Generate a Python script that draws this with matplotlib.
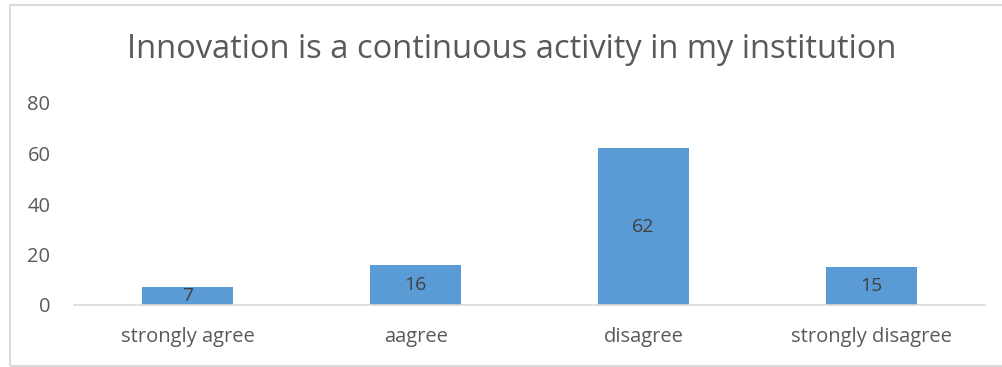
import matplotlib.pyplot as plt
from matplotlib.patches import Rectangle

categories = ['strongly agree', 'aagree', 'disagree', 'strongly disagree']
counts = [7, 16, 62, 15]
yticks = [0, 20, 40, 60, 80]

plt.rcParams['font.family'] = ['Open Sans', 'DejaVu Sans']
text_color = '#595959'
bar_color = '#5B9BD5'
line_color = '#D9D9D9'

fig = plt.figure(figsize=(10.02, 3.67), dpi=100)

# chart frame
fig.patches.append(Rectangle((10 / 1002, 1.5 / 367), 1.0, 360.5 / 367, transform=fig.transFigure,
                             fill=False, edgecolor=line_color, linewidth=1.5))

ax = fig.add_axes([74 / 1002, 62 / 367, 911 / 1002, 202 / 367])
x = range(len(categories))
bars = ax.bar(x, counts, width=0.4, color=bar_color, zorder=2)
for rect, v in zip(bars, counts):
    ax.text(rect.get_x() + rect.get_width() / 2, v / 2, str(v), ha='center', va='center',
            fontsize=14, color='#404040', zorder=3)

ax.set_xlim(-0.5, len(categories) - 0.5)
ax.set_ylim(0, 80)
ax.set_yticks(yticks)
ax.set_xticks(list(x))
ax.set_xticklabels(categories)
ax.tick_params(axis='both', length=0, labelsize=14.5, labelcolor=text_color)
ax.tick_params(axis='x', pad=16)
ax.tick_params(axis='y', pad=17)
for s in ['top', 'right', 'left']:
    ax.spines[s].set_visible(False)
ax.spines['bottom'].set_color(line_color)
ax.spines['bottom'].set_linewidth(1.2)

fig.text(512 / 1002, 1 - 49 / 367, 'Innovation is a continuous activity in my institution',
         ha='center', va='center', fontsize=23.5, color=text_color)

fig.savefig('out.png', dpi=100)
